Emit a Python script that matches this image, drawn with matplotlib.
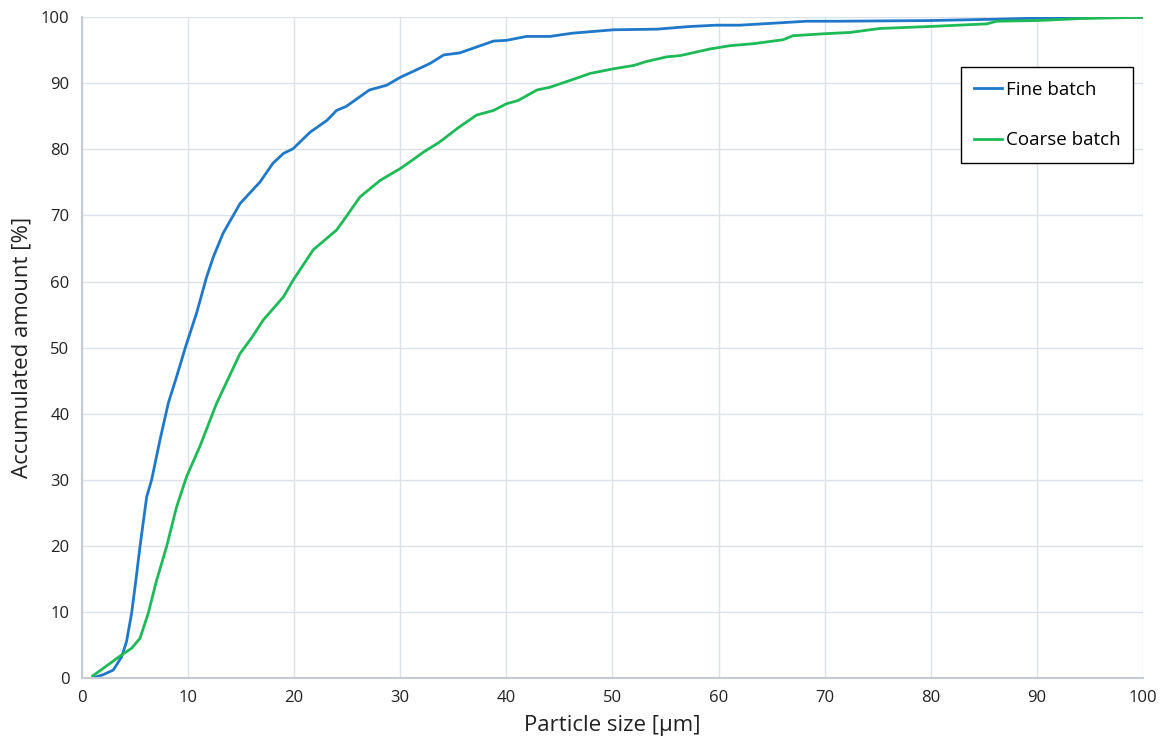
import matplotlib.pyplot as plt

# particle size distribution
fine_x = [1.0, 2.0, 2.95, 3.74, 4.2, 4.68, 5.1, 5.47, 6.1, 6.57, 7.35, 8.14, 8.92, 9.8,
          10.8, 11.75, 12.38, 13.3, 14.9, 16.8, 18.0, 19.0, 19.9, 21.5, 23.1, 24.0,
          24.9, 27.1, 28.7, 30.0, 32.8, 34.1, 35.6, 38.8, 40.0, 41.9, 44.1, 46.3,
          50.1, 54.2, 57.3, 59.8, 62.0, 65.2, 68.3, 71.4, 79.9, 86.0, 93.4, 100.0]
fine_y = [0.0, 0.5, 1.2, 3.2, 5.5, 9.8, 15.0, 19.9, 27.4, 30.0, 36.0, 41.6, 45.6, 50.3,
          55.2, 60.7, 63.7, 67.3, 71.8, 75.1, 77.9, 79.4, 80.1, 82.6, 84.4, 85.9,
          86.5, 89.0, 89.7, 90.9, 93.0, 94.3, 94.6, 96.4, 96.5, 97.1, 97.1, 97.6,
          98.1, 98.2, 98.6, 98.8, 98.8, 99.1, 99.4, 99.4, 99.5, 99.7, 100.0, 100.0]

coarse_x = [1.0, 2.64, 3.74, 4.68, 5.47, 6.25, 7.04, 7.98, 8.92, 9.87, 11.1, 12.7,
            14.9, 16.0, 17.1, 19.0, 19.9, 21.8, 24.0, 24.9, 26.2, 28.1, 30.0, 30.9,
            32.2, 33.7, 35.4, 37.2, 38.8, 40.0, 41.1, 42.9, 44.1, 46.3, 47.9, 50.1,
            52.0, 53.2, 55.1, 56.4, 59.2, 61.1, 63.3, 66.1, 67.0, 69.9, 72.4, 75.2,
            79.9, 85.3, 86.2, 90.0, 94.1, 100.0]
coarse_y = [0.3, 2.2, 3.5, 4.5, 6.0, 9.8, 14.8, 19.9, 25.9, 30.5, 35.0, 41.6,
            49.1, 51.5, 54.2, 57.7, 60.2, 64.8, 67.8, 69.8, 72.8, 75.3, 77.1, 78.1,
            79.6, 81.1, 83.2, 85.2, 85.9, 86.9, 87.4, 89.0, 89.4, 90.6, 91.5, 92.2,
            92.7, 93.3, 94.0, 94.2, 95.2, 95.7, 96.0, 96.6, 97.2, 97.5, 97.7, 98.3,
            98.6, 99.0, 99.4, 99.5, 99.8, 100.0]

x_ticks = list(range(0, 101, 10))
y_ticks = list(range(0, 101, 10))

plt.rcParams['font.family'] = ['Open Sans', 'DejaVu Sans']

fig = plt.figure(figsize=(11.64, 7.5), dpi=100)
ax = fig.add_axes([0.0704, 0.096, 0.9115, 0.881])

ax.plot(fine_x, fine_y, color='#1f78c8', lw=2.0, label='Fine batch')
ax.plot(coarse_x, coarse_y, color='#1fba58', lw=2.0, label='Coarse batch')

ax.set_xlim(0, 100)
ax.set_ylim(0, 100)
ax.set_xticks(x_ticks)
ax.set_yticks(y_ticks)
ax.grid(True, color='#dde1e8', lw=1.0)
ax.set_axisbelow(True)
for s in ['top', 'right']:
    ax.spines[s].set_visible(False)
for s in ['left', 'bottom']:
    ax.spines[s].set_color('#c5cad4')
    ax.spines[s].set_linewidth(1.5)
ax.tick_params(length=0, labelsize=12, labelcolor='#222222', pad=9)

ax.set_xlabel('Particle size [µm]', fontsize=16, color='#222222', labelpad=6)
ax.set_ylabel('Accumulated amount [%]', fontsize=16, color='#222222', labelpad=6)

leg = ax.legend(loc='upper right', bbox_to_anchor=(0.991, 0.924), fontsize=13.5,
                frameon=True, fancybox=False, edgecolor='black', framealpha=1,
                labelspacing=1.75, handlelength=1.5, handletextpad=0.2,
                borderpad=0.7, borderaxespad=0)
leg.get_frame().set_linewidth(1.0)

fig.savefig('out.png', dpi=100)
